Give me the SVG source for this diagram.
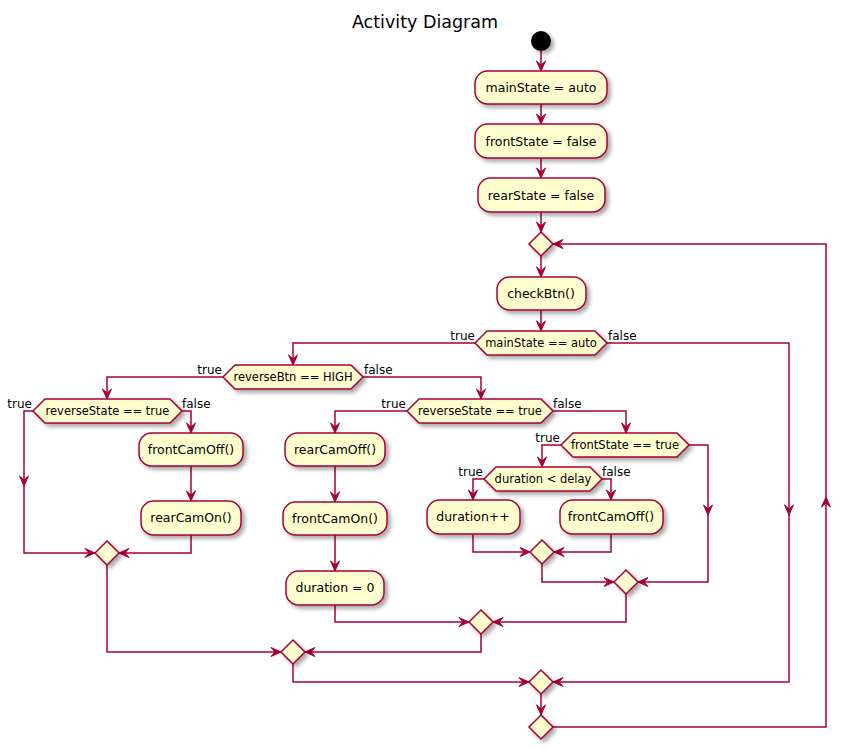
<svg xmlns="http://www.w3.org/2000/svg" xmlns:xlink="http://www.w3.org/1999/xlink" width="850" height="749" viewBox="0 0 850 749">
<style>
.n{fill:#FEFECE;stroke:#A80036;stroke-width:1.5;filter:url(#sh)}
.t{font-family:"DejaVu Sans",Verdana,sans-serif;font-size:12.5px;fill:#000;text-anchor:middle}
.h{font-size:11.5px}
.l{font-family:"DejaVu Sans",Verdana,sans-serif;font-size:12px;fill:#000}
.e{text-anchor:end}
.c{fill:none;stroke:#A80036;stroke-width:1.5}
.a{fill:#A80036;stroke:#A80036;stroke-width:1}
</style>
<defs>
<filter id="sh" x="-20%" y="-20%" width="150%" height="160%">
<feDropShadow dx="3" dy="3" stdDeviation="2" flood-color="#000" flood-opacity="0.35"/>
</filter>
<path id="ah" d="M0,0 L-4.5,-10 L0,-6 L4.5,-10 Z"/>
</defs>
<rect width="850" height="749" fill="#fff"/>
<text x="425" y="28" style="font-family:'DejaVu Sans',Verdana,sans-serif;font-size:17.5px;text-anchor:middle">Activity Diagram</text>

<g id="connectors">
<path class="c" d="M541,51 V71 M541,104 V124 M541,158 V178 M541,212 V232 M541,256 V277 M541,310 V331"/>
<path class="c" d="M475,343 H293 V365 M607,343 H789 V682 H553"/>
<path class="c" d="M223,377 H107 V399 M363,377 H481 V399"/>
<path class="c" d="M33,411 H24 V553 H95 M182,411 H191 V433 M191,466 V501 M191,535 V553 H119 M107,565 V652 H281"/>
<path class="c" d="M407,411 H335 V433 M553,411 H626 V433 M335,466 V502 M335,535 V571 M335,605 V622 H469"/>
<path class="c" d="M561,445 H542 V467 M689,445 H708 V582 H638 M484,479 H473 V500 M602,479 H611 V500"/>
<path class="c" d="M473,534 V552 H530 M611,534 V552 H554 M542,564 V582 H614 M626,594 V622 H493 M481,634 V652 H305 M293,664 V682 H529 M541,694 V715"/>
<path class="c" d="M553,727 H826 V244 H553"/>
<g class="a">
<use xlink:href="#ah" transform="translate(541,71)"/>
<use xlink:href="#ah" transform="translate(541,124)"/>
<use xlink:href="#ah" transform="translate(541,178)"/>
<use xlink:href="#ah" transform="translate(541,232)"/>
<use xlink:href="#ah" transform="translate(541,277)"/>
<use xlink:href="#ah" transform="translate(541,331)"/>
<use xlink:href="#ah" transform="translate(293,365)"/>
<use xlink:href="#ah" transform="translate(789,515)"/>
<use xlink:href="#ah" transform="translate(553,682) rotate(90)"/>
<use xlink:href="#ah" transform="translate(107,399)"/>
<use xlink:href="#ah" transform="translate(481,399)"/>
<use xlink:href="#ah" transform="translate(24,486)"/>
<use xlink:href="#ah" transform="translate(95,553) rotate(-90)"/>
<use xlink:href="#ah" transform="translate(191,433)"/>
<use xlink:href="#ah" transform="translate(191,501)"/>
<use xlink:href="#ah" transform="translate(119,553) rotate(90)"/>
<use xlink:href="#ah" transform="translate(281,652) rotate(-90)"/>
<use xlink:href="#ah" transform="translate(335,433)"/>
<use xlink:href="#ah" transform="translate(626,433)"/>
<use xlink:href="#ah" transform="translate(335,502)"/>
<use xlink:href="#ah" transform="translate(335,571)"/>
<use xlink:href="#ah" transform="translate(469,622) rotate(-90)"/>
<use xlink:href="#ah" transform="translate(542,467)"/>
<use xlink:href="#ah" transform="translate(708,515)"/>
<use xlink:href="#ah" transform="translate(638,582) rotate(90)"/>
<use xlink:href="#ah" transform="translate(473,500)"/>
<use xlink:href="#ah" transform="translate(611,500)"/>
<use xlink:href="#ah" transform="translate(530,552) rotate(-90)"/>
<use xlink:href="#ah" transform="translate(554,552) rotate(90)"/>
<use xlink:href="#ah" transform="translate(614,582) rotate(-90)"/>
<use xlink:href="#ah" transform="translate(493,622) rotate(90)"/>
<use xlink:href="#ah" transform="translate(305,652) rotate(90)"/>
<use xlink:href="#ah" transform="translate(529,682) rotate(-90)"/>
<use xlink:href="#ah" transform="translate(541,715)"/>
<use xlink:href="#ah" transform="translate(826,497) rotate(180)"/>
<use xlink:href="#ah" transform="translate(553,244) rotate(90)"/>
</g>
<text class="l e" x="475" y="340">true</text>
<text class="l" x="608" y="340">false</text>
<text class="l e" x="222" y="374">true</text>
<text class="l" x="364" y="374">false</text>
<text class="l e" x="32" y="408">true</text>
<text class="l" x="182" y="408">false</text>
<text class="l e" x="406" y="408">true</text>
<text class="l" x="553" y="408">false</text>
<text class="l e" x="560" y="442">true</text>
<text class="l e" x="483" y="476">true</text>
<text class="l" x="602" y="476">false</text>
</g>

<g id="start"><circle cx="541" cy="41" r="10" fill="#000" filter="url(#sh)"/></g>
<g id="mainStateAuto"><rect class="n" x="475" y="71" width="132" height="33" rx="12.5"/><text class="t" x="541" y="92">mainState = auto</text></g>
<g id="frontStateFalse"><rect class="n" x="475" y="124" width="132" height="34" rx="12.5"/><text class="t" x="541" y="146">frontState = false</text></g>
<g id="rearStateFalse"><rect class="n" x="478" y="178" width="127" height="34" rx="12.5"/><text class="t" x="541" y="200">rearState = false</text></g>
<g id="loopMerge"><polygon class="n" points="541,232 553,244 541,256 529,244"/></g>
<g id="checkBtn"><rect class="n" x="497" y="277" width="89" height="33" rx="12.5"/><text class="t" x="541" y="298">checkBtn()</text></g>
<g id="ifMainState"><polygon class="n" points="475,343 487,331 595,331 607,343 595,355 487,355"/><text class="t h" x="541" y="347">mainState == auto</text></g>
<g id="ifReverseBtn"><polygon class="n" points="223,377 235,365 351,365 363,377 351,389 235,389"/><text class="t h" x="293" y="381">reverseBtn == HIGH</text></g>
<g id="ifReverseState1"><polygon class="n" points="33,411 45,399 170,399 182,411 170,423 45,423"/><text class="t h" x="107.5" y="415">reverseState == true</text></g>
<g id="frontCamOff1"><rect class="n" x="139" y="433" width="104" height="33" rx="12.5"/><text class="t" x="191" y="454">frontCamOff()</text></g>
<g id="rearCamOn"><rect class="n" x="141" y="501" width="100" height="34" rx="12.5"/><text class="t" x="191" y="522">rearCamOn()</text></g>
<g id="merge1"><polygon class="n" points="107,541 119,553 107,565 95,553"/></g>
<g id="ifReverseState2"><polygon class="n" points="407,411 419,399 541,399 553,411 541,423 419,423"/><text class="t h" x="480" y="415">reverseState == true</text></g>
<g id="rearCamOff"><rect class="n" x="285" y="433" width="100" height="33" rx="12.5"/><text class="t" x="335" y="454">rearCamOff()</text></g>
<g id="frontCamOn"><rect class="n" x="283" y="502" width="104" height="33" rx="12.5"/><text class="t" x="335" y="523">frontCamOn()</text></g>
<g id="durationZero"><rect class="n" x="286" y="571" width="98" height="34" rx="12.5"/><text class="t" x="335" y="592">duration = 0</text></g>
<g id="ifFrontState"><polygon class="n" points="561,445 573,433 677,433 689,445 677,457 573,457"/><text class="t h" x="625" y="449">frontState == true</text></g>
<g id="ifDuration"><polygon class="n" points="484,479 496,467 590,467 602,479 590,491 496,491"/><text class="t h" x="543" y="483">duration &lt; delay</text></g>
<g id="durationInc"><rect class="n" x="427" y="500" width="93" height="34" rx="12.5"/><text class="t" x="473" y="521">duration++</text></g>
<g id="frontCamOff2"><rect class="n" x="560" y="500" width="103" height="34" rx="12.5"/><text class="t" x="611" y="521">frontCamOff()</text></g>
<g id="merge2"><polygon class="n" points="542,540 554,552 542,564 530,552"/></g>
<g id="merge3"><polygon class="n" points="626,570 638,582 626,594 614,582"/></g>
<g id="merge4"><polygon class="n" points="481,610 493,622 481,634 469,622"/></g>
<g id="merge5"><polygon class="n" points="293,640 305,652 293,664 281,652"/></g>
<g id="merge6"><polygon class="n" points="541,670 553,682 541,694 529,682"/></g>
<g id="loopEnd"><polygon class="n" points="541,715 553,727 541,739 529,727"/></g>
</svg>
